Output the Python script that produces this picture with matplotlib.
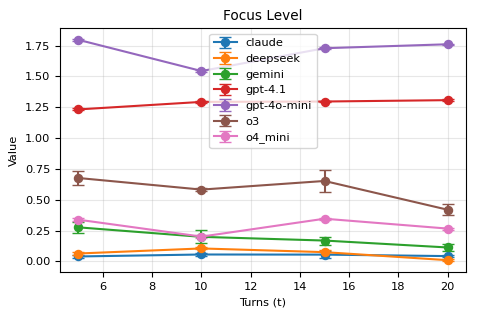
import matplotlib
matplotlib.use("Agg")
import matplotlib.pyplot as plt

turns = [5, 10, 15, 20]

models = ["claude", "deepseek", "gemini", "gpt-4.1", "gpt-4o-mini", "o3", "o4_mini"]

claude      = [0.040, 0.056, 0.055, 0.043]
deepseek    = [0.064, 0.105, 0.075, 0.010]
gemini      = [0.276, 0.199, 0.169, 0.113]
gpt41       = [1.232, 1.293, 1.296, 1.307]
gpt4omini   = [1.796, 1.543, 1.728, 1.760]
o3          = [0.676, 0.582, 0.652, 0.419]
o4mini      = [0.338, 0.201, 0.346, 0.266]

claude_err    = [0.012, 0.010, 0.030, 0.008]
deepseek_err  = [0.012, 0.008, 0.018, 0.006]
gemini_err    = [0.043, 0.052, 0.032, 0.025]
gpt41_err     = [0.008, 0.006, 0.006, 0.006]
gpt4omini_err = [0.006, 0.006, 0.006, 0.006]
o3_err        = [0.060, 0.010, 0.088, 0.043]
o4mini_err    = [0.010, 0.010, 0.008, 0.008]

values = [claude, deepseek, gemini, gpt41, gpt4omini, o3, o4mini]
errors = [claude_err, deepseek_err, gemini_err, gpt41_err,
          gpt4omini_err, o3_err, o4mini_err]

plt.rcParams["font.size"] = 8.2

fig = plt.figure(figsize=(4.78, 3.19), dpi=100)
ax = fig.add_axes([60 / 478, 1 - 272 / 319, 406 / 478, 244 / 319])

for name, v, e in zip(models, values, errors):
    ax.errorbar(turns, v, yerr=e, marker="o", ms=5.8, lw=1.5,
                capsize=4, label=name)

ax.set_title("Focus Level")
ax.set_xlabel("Turns (t)")
ax.set_ylabel("Value")
ax.grid(alpha=0.3)
ax.legend(loc="upper center")

fig.savefig("out.png", dpi=100)
